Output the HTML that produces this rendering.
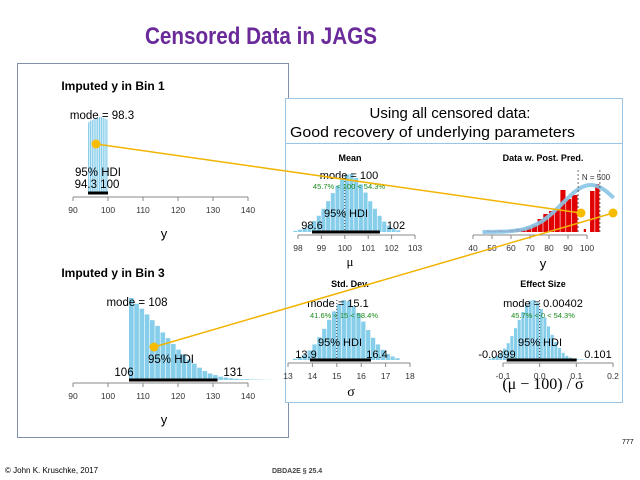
<!DOCTYPE html>
<html><head><meta charset="utf-8"><style>
body{margin:0;background:#fff}
svg{display:block;font-family:"Liberation Sans",sans-serif}
</style></head><body>
<svg id="s" width="640" height="480" viewBox="0 0 640 480">
<text x="261" y="44" text-anchor="middle" font-size="24" font-weight="bold" fill="#6a2a9a" textLength="232" lengthAdjust="spacingAndGlyphs">Censored Data in JAGS</text>
<rect x="17.5" y="63.5" width="271" height="374" fill="#fff" stroke="#8090a8"/>
<rect x="285.5" y="98.5" width="337" height="45" fill="#fff" stroke="#9cc4e4"/>
<rect x="285.5" y="143.5" width="337" height="259" fill="#fff" stroke="#9cc4e4"/>
<text x="450" y="118" text-anchor="middle" font-size="15">Using all censored data:</text>
<text x="290" y="137" font-size="15" textLength="285" lengthAdjust="spacingAndGlyphs">Good recovery of underlying parameters</text>
<g id="g"></g>
<text x="5" y="473" font-size="8">© John K. Kruschke, 2017</text>
<text x="272" y="473" font-size="7" font-weight="bold" fill="#444">DBDA2E § 25.4</text>
<text x="622" y="444" font-size="7">777</text>
</svg>
<script>
// ---- data ----
const bin1Start=94.3, bin1Width=0.52;
const bin1Heights=[0.93,0.95,0.96,0.97,0.98,0.99,1.0,1.0,0.99,0.98,0.97];
const bin3Start=106, bin3Width=1.5;
const bin3Heights=[1.0,0.93,0.87,0.80,0.73,0.66,0.58,0.51,0.44,0.37,0.31,0.25,0.2,0.15,0.11,0.08,0.06,0.04,0.03,0.02,0.015,0.01,0.01,0.006,0.005,0.003,0.002,0.001];
const meanStart=97.8, meanWidth=0.2;
const meanHeights=[0.02,0.04,0.07,0.12,0.19,0.28,0.40,0.53,0.67,0.80,0.92,0.99,1.0,0.93,0.82,0.68,0.53,0.40,0.28,0.18,0.11,0.06,0.03];
const sdStart=13.2, sdWidth=0.2;
const sdHeights=[0.02,0.05,0.09,0.16,0.26,0.38,0.52,0.67,0.81,0.93,1.0,0.98,0.90,0.78,0.64,0.50,0.37,0.26,0.17,0.10,0.06,0.03];
const esStart=-0.14, esWidth=0.01;
const esHeights=[0.02,0.04,0.07,0.12,0.19,0.28,0.40,0.53,0.67,0.80,0.92,0.99,1.0,0.95,0.85,0.71,0.56,0.42,0.30,0.20,0.12,0.07,0.04,0.02,0.01,0.01,0.005,0.003,0.002];
const dataBinStarts=[47,50,53,56,59,62,65,68,71,74,77,80,83,86,89,92,98.3,101.6,104.3];
const dataBinEnds=[50,53,56,59,62,65,68,71,74,77,80,83,86,89,92,95.3,99.8,104.3,106.8];
const dataCounts=[1,1,2,1,2,3,3,5,7,13,18,21,23,42,33,37,3,41,48];
const postMean=102, postSd=15, postPeak=47;
const leftTicks=[90,100,110,120,130,140];
const meanTicks=[98,99,100,101,102,103];
const dataTicks=[40,50,60,70,80,90,100];
const sdTicks=[13,14,15,16,17,18];
const esTicks=[-0.1,0.0,0.1,0.2];
const esTickLabels=["-0.1","0.0","0.1","0.2"];

const NS="http://www.w3.org/2000/svg", G=document.getElementById('g');
function el(t,a,txt){const e=document.createElementNS(NS,t);for(const k in a)e.setAttribute(k,a[k]);if(txt!=null)e.textContent=txt;G.appendChild(e);return e;}
function scale(d0,d1,p0,p1){return v=>p0+(v-d0)*(p1-p0)/(d1-d0);}
function axis(xs,ticks,labels,y0,name){
  const a=el('line',{x1:xs(ticks[0]),x2:xs(ticks[ticks.length-1]),y1:y0+4,y2:y0+4,stroke:'#888','stroke-width':1});
  
  ticks.forEach((t,i)=>{
    el('line',{x1:xs(t),x2:xs(t),y1:y0+4,y2:y0+8,stroke:'#888'});
    const tx=el('text',{x:xs(t),y:y0+20,'font-size':8.5,'text-anchor':'middle',fill:'#333'},labels?labels[i]:String(t));
    
  });
}
function hist(xs,start,w,heights,y0,peak,name){
  heights.forEach((h,i)=>{
    const x0=xs(start+i*w),x1=xs(start+(i+1)*w);
    const r=el('rect',{x:x0,y:y0-h*peak,width:Math.max(0.5,x1-x0-0.6),height:h*peak,fill:'#87ceeb'});
    
  });
}
function txt(x,y,s,size,opts,name){const t=el('text',Object.assign({x:x,y:y,'font-size':size,'text-anchor':'middle'},opts||{}),s);return t;}
function hdi(xs,a,b,y,name){const l=el('line',{x1:xs(a),x2:xs(b),y1:y,y2:y,stroke:'#000','stroke-width':3});}

// Bin 1
let xl=scale(90,140,73,248);
txt(113,90,'Imputed y in Bin 1',12,{'font-weight':'bold'},'bin1-title');
hist(xl,bin1Start,bin1Width,bin1Heights,193,76,'bin1');
hdi(xl,94.3,100,193,'bin1-hdi-bar');
axis(xl,leftTicks,null,193,'bin1-x');
txt(102,119,'mode = 98.3',11.5,{},'bin1-mode');
txt(98,176,'95% HDI',11.5,{},'bin1-hdi-label');
txt(97,188,'94.3  100',11.5,{},'bin1-hdi-values');
txt(164,238,'y',13,{},'bin1-x-title');
// Bin 3
txt(113,277,'Imputed y in Bin 3',12,{'font-weight':'bold'},'bin3-title');
hist(xl,bin3Start,bin3Width,bin3Heights,380,82,'bin3');
hdi(xl,106,131.3,380,'bin3-hdi-bar');
axis(xl,leftTicks,null,379,'bin3-x');
txt(137,306,'mode = 108',11.5,{},'bin3-mode');
txt(171,363,'95% HDI',11.5,{},'bin3-hdi-label');
txt(124,376,'106',11.5,{},'bin3-hdi-low');
txt(233,376,'131',11.5,{},'bin3-hdi-high');
txt(164,424,'y',13,{},'bin3-x-title');

// Mean
let xm=scale(98,103,298,415);
txt(350,161,'Mean',9,{'font-weight':'bold'},'mean-title');
hist(xm,meanStart,meanWidth,meanHeights,232,58,'mean');
el('line',{x1:xm(100),x2:xm(100),y1:175,y2:232,stroke:'#333','stroke-dasharray':'1,2'});
hdi(xm,98.6,101.5,232,'mean-hdi-bar');
axis(xm,meanTicks,null,231,'mean-x');
txt(349,179,'mode = 100',11,{},'mean-mode');
txt(349,189,'45.7% < 100 < 54.3%',7.5,{fill:'#1a8a1a'},'mean-comparison');
txt(346,217,'95% HDI',11,{},'mean-hdi-label');
txt(312,229,'98.6',11,{},'mean-hdi-low');
txt(396,229,'102',11,{},'mean-hdi-high');
txt(350,266,'μ',13,{'font-family':'"Liberation Serif",serif'},'mean-x-title');

// Data w. post pred
let xd=scale(40,100,473,587);
const yd0=232;
txt(543,161,'Data w. Post. Pred.',9,{'font-weight':'bold'},'data-title');
dataCounts.forEach((c,i)=>{
  const r=el('rect',{x:xd(dataBinStarts[i]),y:yd0-c,width:xd(dataBinEnds[i])-xd(dataBinStarts[i])-0.6,height:c,fill:'#e00000'});
  
});
let pts=[];for(let v=45;v<=114;v+=1){pts.push(xd(v).toFixed(1)+','+(yd0-postPeak*Math.exp(-0.5*Math.pow((v-postMean)/postSd,2))).toFixed(1));}
const pc=el('polyline',{points:pts.join(' '),fill:'none',stroke:'#87c4e6','stroke-width':4,opacity:0.9});

[95.3,106.8].forEach(v=>{const l=el('line',{x1:xd(v),x2:xd(v),y1:170,y2:yd0,stroke:'#333','stroke-dasharray':'2,2','stroke-width':0.7});});
axis(xd,dataTicks,null,231,'data-x');
txt(596,180,'N = 500',8,{fill:'#333'},'data-n-label');
txt(543,268,'y',13,{},'data-x-title');

// Std dev
let xs=scale(13,18,288,410);
txt(350,287,'Std. Dev.',9,{'font-weight':'bold'},'sd-title');
hist(xs,sdStart,sdWidth,sdHeights,360,60,'sd');
el('line',{x1:xs(15),x2:xs(15),y1:300,y2:360,stroke:'#333','stroke-dasharray':'1,2'});
hdi(xs,13.9,16.4,360,'sd-hdi-bar');
axis(xs,sdTicks,null,359,'sd-x');
txt(338,307,'mode = 15.1',11,{},'sd-mode');
txt(344,318,'41.6% < 15 < 58.4%',7.5,{fill:'#1a8a1a'},'sd-comparison');
txt(340,346,'95% HDI',11,{},'sd-hdi-label');
txt(306,358,'13.9',11,{},'sd-hdi-low');
txt(377,358,'16.4',11,{},'sd-hdi-high');
txt(351,396,'σ',14,{'font-family':'"Liberation Serif",serif'},'sd-x-title');

// Effect size
let xe=scale(-0.1,0.2,503,613);
txt(543,287,'Effect Size',9,{'font-weight':'bold'},'es-title');
hist(xe,esStart,esWidth,esHeights,360,60,'es');
el('line',{x1:xe(0),x2:xe(0),y1:300,y2:360,stroke:'#333','stroke-dasharray':'1,2'});
hdi(xe,-0.0899,0.101,360,'es-hdi-bar');
axis(xe,esTicks,esTickLabels,359,'es-x');
txt(543,307,'mode = 0.00402',11,{},'es-mode');
txt(543,318,'45.7% < 0 < 54.3%',7.5,{fill:'#1a8a1a'},'es-comparison');
txt(540,346,'95% HDI',11,{},'es-hdi-label');
txt(497,358,'-0.0899',11,{},'es-hdi-low');
txt(598,358,'0.101',11,{},'es-hdi-high');
txt(543,389,'(μ − 100) / σ',16,{'font-family':'"Liberation Serif",serif'},'es-x-title');

// connectors
[[96,144,581,213],[154,347,613,213]].forEach((c,i)=>{
  const l=el('line',{x1:c[0],y1:c[1],x2:c[2],y2:c[3],stroke:'#f2b400','stroke-width':1.5});
  
  [[c[0],c[1]],[c[2],c[3]]].forEach(p=>{const d=el('circle',{cx:p[0],cy:p[1],r:4.5,fill:'#f7bb00'});});
});
</script>
</body></html>
